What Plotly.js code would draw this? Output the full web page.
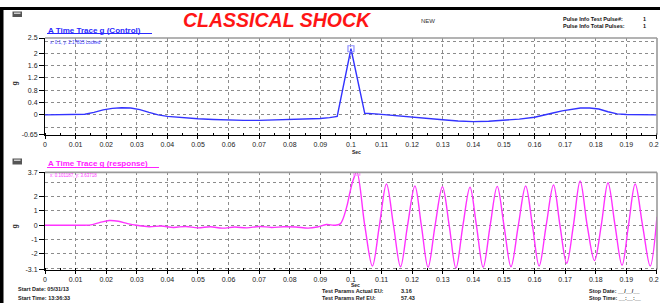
<!DOCTYPE html>
<html><head><meta charset="utf-8">
<script src="https://cdn.plot.ly/plotly-3.0.1.min.js"></script>
<style>html,body{margin:0;padding:0;background:#fff;}#chart{width:660px;height:303px;}</style>
</head><body><div id="chart"></div>
<script>
// ---- data ----
const controlTime = [0, 0.005, 0.01, 0.013, 0.016, 0.019, 0.022, 0.025, 0.028, 0.031, 0.034, 0.037, 0.04, 0.045, 0.05, 0.055, 0.06, 0.065, 0.07, 0.075, 0.08, 0.085, 0.09, 0.093, 0.0955, 0.1, 0.1045, 0.108, 0.112, 0.116, 0.12, 0.125, 0.13, 0.135, 0.14, 0.145, 0.15, 0.155, 0.16, 0.163, 0.166, 0.169, 0.172, 0.175, 0.178, 0.181, 0.184, 0.187, 0.19, 0.195, 0.2];
const controlG = [0, 0, 0, 0.02, 0.08, 0.16, 0.21, 0.23, 0.22, 0.17, 0.08, 0.0, -0.05, -0.1, -0.13, -0.15, -0.17, -0.18, -0.18, -0.17, -0.16, -0.14, -0.12, -0.09, -0.05, 2.15, 0.05, 0.03, 0.0, -0.03, -0.07, -0.12, -0.16, -0.2, -0.22, -0.21, -0.18, -0.14, -0.08, -0.02, 0.06, 0.13, 0.18, 0.22, 0.22, 0.19, 0.1, 0.03, 0.01, 0, 0];

const responseTime = [0, 0.005, 0.01, 0.015, 0.018, 0.021, 0.024, 0.027, 0.03, 0.034, 0.038, 0.042, 0.046, 0.05, 0.054, 0.058, 0.062, 0.066, 0.07, 0.074, 0.078, 0.082, 0.086, 0.089, 0.092, 0.0945, 0.0965, 0.0985, 0.0996, 0.1007, 0.1019,
  0.1045, 0.107, 0.1093, 0.1116, 0.1139, 0.1162, 0.1185, 0.1209, 0.1230, 0.1252, 0.1275, 0.1299, 0.1321, 0.1343, 0.1366, 0.1389, 0.1410, 0.1432, 0.1455, 0.1478, 0.1500, 0.1523, 0.1547, 0.1571, 0.1593, 0.1615, 0.1638, 0.1662, 0.1683, 0.1705, 0.1727, 0.1749, 0.1772, 0.1796, 0.1818, 0.1840, 0.1863, 0.1886, 0.1907, 0.1929, 0.1953, 0.1978, 0.2];
const responseG = [0, 0, 0, 0.03, 0.2, 0.33, 0.28, 0.12, 0.0, -0.1, -0.05, -0.15, -0.08, -0.18, -0.1, -0.2, -0.12, -0.18, -0.08, -0.15, -0.1, -0.12, -0.2, -0.12, 0.05, 0.0, 0.1, 1.2, 2.24, 3.16, 3.72,
  0, -2.85, 0, 2.89, 0, -2.9, 0, 2.75, 0, -2.94, 0, 2.7, 0, -3.0, 0, 2.66, 0, -2.94, 0, 2.72, 0, -2.9, 0, 2.75, 0, -2.85, 0, 2.82, 0, -2.66, 0, 3.1, 0, -2.47, 0, 2.98, 0, -2.8, 0, 2.89, 0, -2.85, 0.6];

const xTickVals = [0,0.01,0.02,0.03,0.04,0.05,0.06,0.07,0.08,0.09,0.1,0.11,0.12,0.13,0.14,0.15,0.16,0.17,0.18,0.19,0.2];
const xTickText = ['0','0.01','0.02','0.03','0.04','0.05','0.06','0.07','0.08','0.09','0.1','0.11','0.12','0.13','0.14','0.15','0.16','0.17','0.18','0.19','0.2'];
const controlYTickVals = [-0.65,0,0.4,0.8,1.2,1.6,2,2.5];
const controlYTickText = ['-0.65','0','0.4','0.8','1.2','1.6','2','2.5'];
const responseYTickVals = [-3.1,-2,-1,0,1,2,3.7];
const responseYTickText = ['-3.1','-2','-1','0','1','2','3.7'];

// ---- helpers ----
const W = 660, H = 303;
const px = x => x / W;
const py = y => 1 - y / H;
const FONT = 'Liberation Sans, Arial, sans-serif';

function peakIndex(arr){ let k=0; for(let i=1;i<arr.length;i++) if(arr[i]>arr[k]) k=i; return k; }
const cPk = peakIndex(controlG), rPk = peakIndex(responseG);

// last x label sits at the right page edge: draw it right-aligned so it stays whole
const lastX = xTickText.length - 1;
const shownXText = xTickText.map((t, i) => i === lastX ? '' : t);

const gridCol = '#8c8c8c';
function xAxis(anchor){
  return {
    domain:[px(45), px(657)], range:[0,0.20002], anchor:anchor,
    tickmode:'array', tickvals:xTickVals, ticktext:shownXText,
    ticks:'outside', ticklen:3, tickcolor:'#000', tickwidth:1,
    showline:true, linecolor:'#000', linewidth:1,
    showgrid:true, gridcolor:gridCol, gridwidth:1, griddash:'3px,3px',
    zeroline:false, tickfont:{family:FONT, size:7, color:'#222'},
    minor:{dtick:0.005, tick0:0, ticks:'inside', ticklen:2, tickcolor:'#000', showgrid:false},
    fixedrange:true
  };
}
function yAxis(anchor, yTop, yBot, range, vals, text, minorDtick){
  return {
    domain:[py(yBot), py(yTop)], range:range, anchor:anchor,
    tickmode:'array', tickvals:vals, ticktext:text,
    ticks:'outside', ticklen:5, tickcolor:'#000',
    showline:true, linecolor:'#000', linewidth:1,
    showgrid:true, gridcolor:gridCol, gridwidth:1, griddash:'3px,3px',
    zeroline:false, tickfont:{family:FONT, size:7, color:'#222'},
    minor:{dtick:minorDtick, tick0:0, ticks:'', showgrid:true, gridcolor:gridCol, gridwidth:1, griddash:'3px,3px'},
    fixedrange:true
  };
}

const traces = [
  {x:controlTime, y:controlG, xaxis:'x', yaxis:'y', mode:'lines', line:{color:'#3333ff', width:1.4}, hoverinfo:'skip'},
  {x:[controlTime[cPk]], y:[controlG[cPk]], xaxis:'x', yaxis:'y', mode:'markers',
   marker:{symbol:'square-open', size:6, color:'#8d8dff', line:{width:1.2, color:'#8d8dff'}}, hoverinfo:'skip'},
  {x:responseTime, y:responseG, xaxis:'x2', yaxis:'y2', mode:'lines', line:{color:'#ff33ff', width:1.4, shape:'spline', smoothing:1}, hoverinfo:'skip'},
  {x:[responseTime[rPk]], y:[responseG[rPk]], xaxis:'x2', yaxis:'y2', mode:'markers',
   marker:{symbol:'square-open', size:6, color:'#ff99ff', line:{width:1.2, color:'#ff99ff'}}, hoverinfo:'skip'}
];

function ann(text, x, y, o){
  o = o || {};
  return Object.assign({text:text, x:px(x), y:py(y), xref:'paper', yref:'paper', showarrow:false,
    xanchor:o.xa||'left', yanchor:'middle', borderpad:0,
    font:{family:FONT, size:o.size||6, color:o.color||'#222'}}, o.extra||{});
}

const annotations = [
  ann('<b><i>CLASSICAL SHOCK</i></b>', 277, 19.5, {xa:'center', size:19.5, color:'#ff1515'}),
  ann('NEW', 428, 21, {xa:'center', size:6, color:'#333'}),
  ann('<b>Pulse Info Test Pulse#:</b>', 562, 18.5, {size:5.5, color:'#111'}),
  ann('<b>1</b>', 642, 18.5, {size:5.5, color:'#111'}),
  ann('<b>Pulse Info Total Pulses:</b>', 562, 26, {size:5.5, color:'#111'}),
  ann('<b>1</b>', 642, 26, {size:5.5, color:'#111'}),
  ann('<b>A Time Trace g (Control)</b>', 47, 30.5, {size:8, color:'#2a2aff'}),
  ann('x: 0.1, y: 2.17815 Locked', 49, 42.5, {size:4.5, color:'#3333ff'}),
  ann('<b>A Time Trace g (response)</b>', 47, 163, {size:8, color:'#ff22ff'}),
  ann('x: 0.101187, y: 3.63718', 49, 175, {size:4.5, color:'#ff33ff'}),
  ann('<b>g</b>', 14.5, 84, {xa:'center', size:7, color:'#222', extra:{textangle:-90}}),
  ann('<b>g</b>', 14.5, 227, {xa:'center', size:7, color:'#222', extra:{textangle:-90}}),
  ann('<b>Sec</b>', 356, 151.5, {xa:'center', size:5, color:'#222'}),
  ann('<b>Sec</b>', 355, 285, {xa:'center', size:5, color:'#222'}),
  ann(xTickText[lastX], 659.5, 144, {xa:'right', size:7, color:'#222'}),
  ann(xTickText[lastX], 659.5, 279, {xa:'right', size:7, color:'#222'}),
  ann('<b>Start Date: 05/31/13</b>', 17, 289, {size:5.5, color:'#222'}),
  ann('<b>Start Time: 13:36:33</b>', 17, 297.5, {size:5.5, color:'#222'}),
  ann('<b>Test Params Actual EU:</b>', 321, 291, {size:5.5, color:'#222'}),
  ann('<b>3.16</b>', 400, 291, {size:5.5, color:'#222'}),
  ann('<b>Test Params Ref EU:</b>', 321, 298, {size:5.5, color:'#222'}),
  ann('<b>57.43</b>', 400, 298, {size:5.5, color:'#222'}),
  ann('<b>Stop Date: __/__/__</b>', 588, 290.5, {size:5.5, color:'#222'}),
  ann('<b>Stop Time: __:__:__</b>', 588, 298, {size:5.5, color:'#222'})
];

function rect(x0,y0,x1,y1,fill,line){
  return {type:'rect', xref:'paper', yref:'paper', x0:px(x0), x1:px(x1), y0:py(y0), y1:py(y1),
    fillcolor:fill, line:line||{width:0}, layer:'above'};
}
function seg(x0,y0,x1,y1,color,width){
  return {type:'line', xref:'paper', yref:'paper', x0:px(x0), x1:px(x1), y0:py(y0), y1:py(y1),
    line:{color:color, width:width}, layer:'above'};
}

const shapes = [
  rect(0,7,660,10,'#000'),
  rect(0,7,3.5,303,'#000'),
  rect(12.5,11.5,22,17,'#555'), rect(14,12.5,20.5,14,'#ccc'),
  rect(12.5,158.5,22,164.5,'#555'), rect(14,159.5,20.5,161,'#ccc'),
  seg(47,33.5,152,33.5,'#2a2aff',1),
  seg(47,167.5,159,167.5,'#ff22ff',1),
  seg(45,38,657,38,'#9a9a9a',1.6),
  seg(657,38,657,134.8,'#9a9a9a',1.6),
  seg(45,172.4,657,172.4,'#9a9a9a',1.6),
  seg(657,172.4,657,269.6,'#9a9a9a',1.6)
];

const layout = {
  width:W, height:H, margin:{l:0,r:0,t:0,b:0},
  paper_bgcolor:'#fff', plot_bgcolor:'#fff', showlegend:false,
  font:{family:FONT},
  xaxis: xAxis('y'),
  yaxis: yAxis('x', 38, 134.8, [-0.65,2.5], controlYTickVals, controlYTickText, 0.4),
  xaxis2: xAxis('y2'),
  yaxis2: yAxis('x2', 172.4, 269.6, [-3.1,3.7], responseYTickVals, responseYTickText, 1),
  annotations: annotations,
  shapes: shapes
};

Plotly.newPlot('chart', traces, layout, {displayModeBar:false, staticPlot:true});
</script></body></html>
